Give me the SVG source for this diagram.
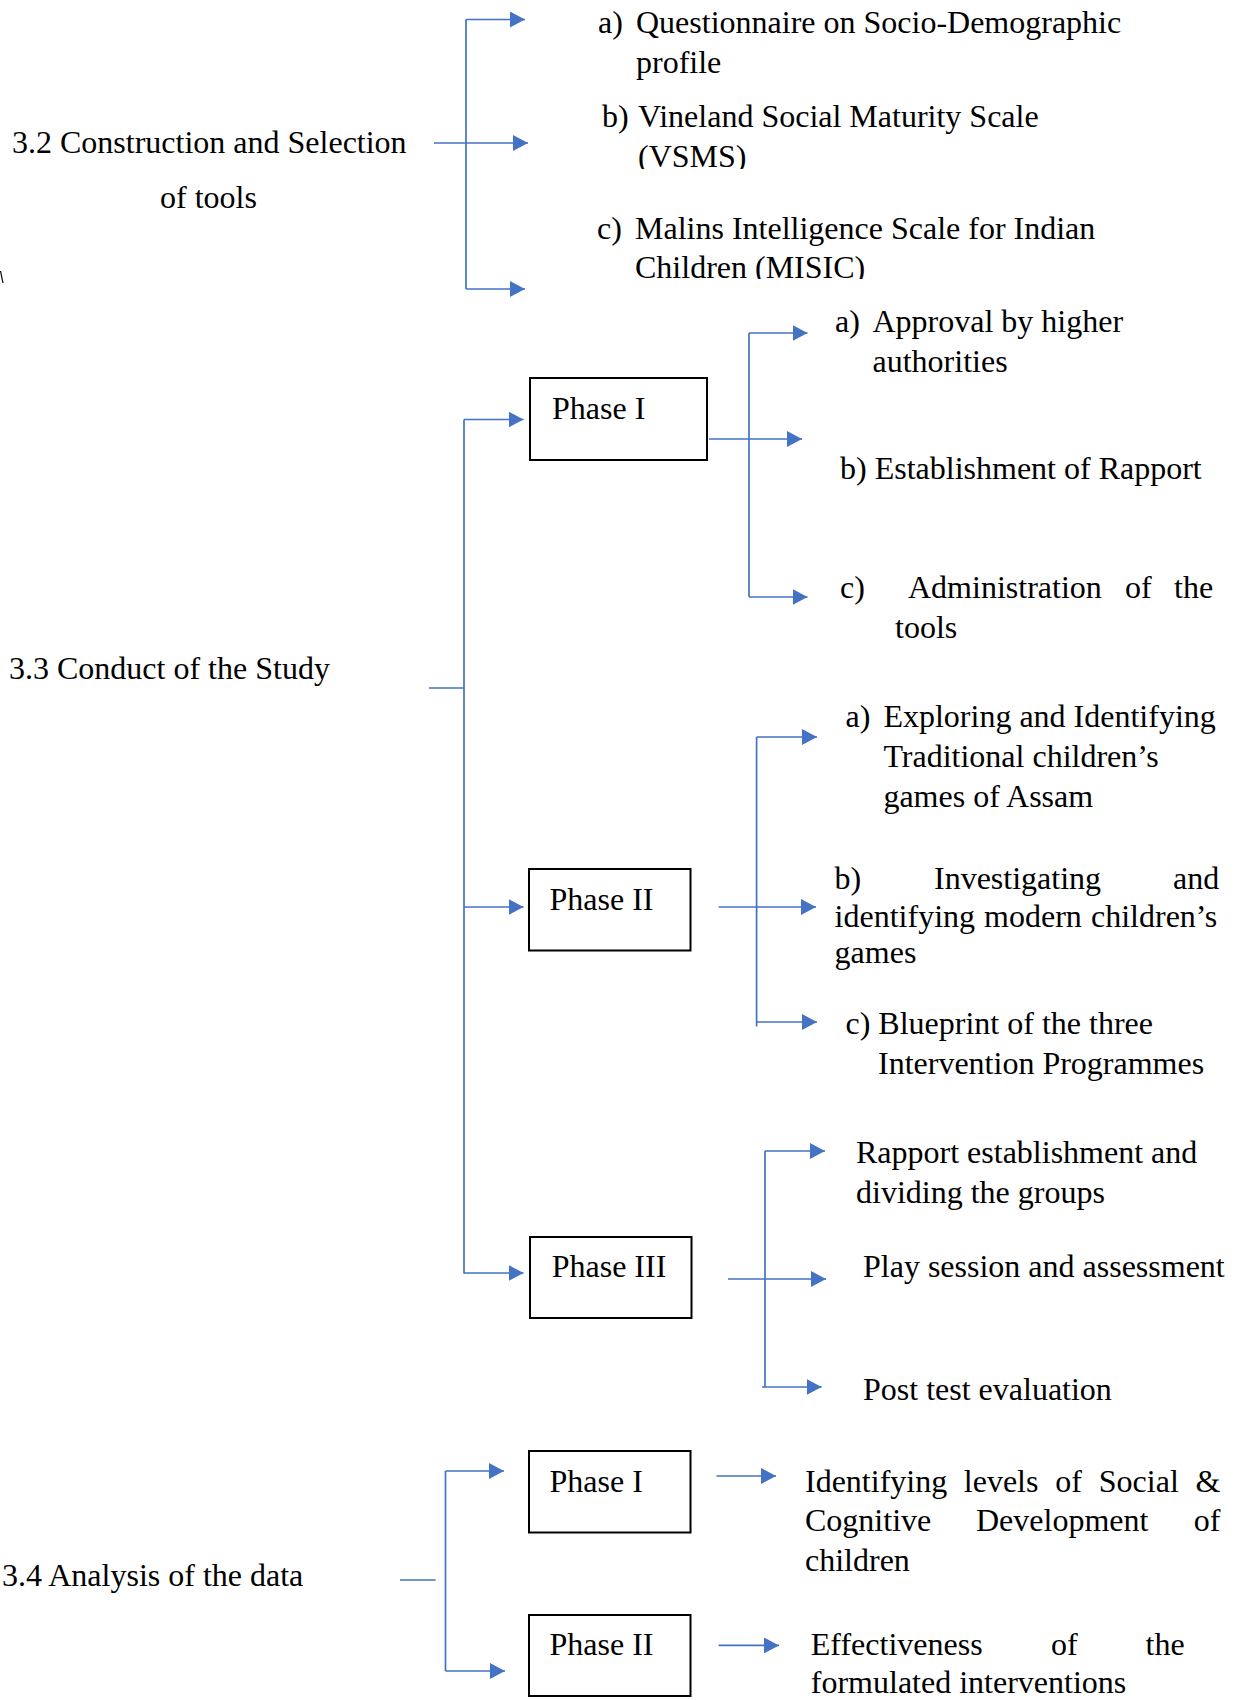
<svg xmlns="http://www.w3.org/2000/svg" width="1240" height="1700" viewBox="0 0 1240 1700">
<style>
text{font-family:"Liberation Serif","Times New Roman",serif;font-size:32px;fill:#000}
.c{stroke:#4472C4;stroke-width:1.7;fill:none}
.a{stroke:#4472C4;stroke-width:1.7;fill:none;marker-end:url(#ah)}
.box{fill:#fff;stroke:#000;stroke-width:2}
</style>
<defs>
<marker id="ah" viewBox="0 0 15 16" refX="15" refY="8" markerWidth="15" markerHeight="16" markerUnits="userSpaceOnUse" orient="auto">
<path d="M0,0 L15,8 L0,16 z" fill="#4472C4"/>
</marker>
<clipPath id="clipVSMS"><rect x="600" y="130" width="200" height="39"/></clipPath>
<clipPath id="clipMISIC"><rect x="600" y="240" width="300" height="39"/></clipPath>
</defs>

<g id="connectors">
<!-- 3.2 -->
<line class="c" x1="466" y1="19.5" x2="466" y2="289"/>
<line class="a" x1="466" y1="19.5" x2="525" y2="19.5"/>
<line class="a" x1="434" y1="143" x2="528" y2="143"/>
<line class="a" x1="466" y1="289" x2="525" y2="289"/>
<!-- 3.3 -->
<line class="c" x1="429" y1="688" x2="464" y2="688"/>
<line class="c" x1="464" y1="419.5" x2="464" y2="1273.5"/>
<line class="a" x1="464" y1="419.5" x2="523.5" y2="419.5"/>
<line class="a" x1="464" y1="907" x2="523.5" y2="907"/>
<line class="a" x1="464" y1="1273" x2="523.5" y2="1273"/>
<!-- Phase I (3.3) -->
<line class="c" x1="749" y1="333" x2="749" y2="597"/>
<line class="a" x1="709" y1="439" x2="802" y2="439"/>
<line class="a" x1="749" y1="333" x2="807.5" y2="333"/>
<line class="a" x1="749" y1="597" x2="807.5" y2="597"/>
<!-- Phase II (3.3) -->
<line class="c" x1="756.6" y1="737" x2="756.6" y2="1026.5"/>
<line class="a" x1="718.6" y1="907" x2="816" y2="907"/>
<line class="a" x1="756.6" y1="737" x2="817" y2="737"/>
<line class="a" x1="756.6" y1="1022" x2="817" y2="1022"/>
<!-- Phase III (3.3) -->
<line class="c" x1="765" y1="1151" x2="765" y2="1387"/>
<line class="a" x1="728" y1="1279" x2="826" y2="1279"/>
<line class="a" x1="765" y1="1151" x2="825" y2="1151"/>
<line class="a" x1="762" y1="1387" x2="821.6" y2="1387"/>
<!-- 3.4 -->
<line class="c" x1="400" y1="1580" x2="435.7" y2="1580"/>
<line class="c" x1="445.5" y1="1471" x2="445.5" y2="1671"/>
<line class="a" x1="445.5" y1="1471" x2="504" y2="1471"/>
<line class="a" x1="445.5" y1="1671" x2="505" y2="1671"/>
<line class="a" x1="716.5" y1="1476" x2="776" y2="1476"/>
<line class="a" x1="718.6" y1="1645.4" x2="779" y2="1645.4"/>
</g>

<line x1="0.5" y1="271" x2="3" y2="283" stroke="#000" stroke-width="1.2"/>

<g id="n32">
<text x="12" y="153">3.2 Construction and Selection</text>
<text x="160" y="208">of tools</text>
</g>
<g id="n32a">
<text x="598" y="33">a)</text>
<text x="636" y="33">Questionnaire on Socio-Demographic</text>
<text x="636" y="73">profile</text>
</g>
<g id="n32b">
<text x="602" y="127">b)</text>
<text x="638" y="127">Vineland Social Maturity Scale</text>
<text x="638" y="167" clip-path="url(#clipVSMS)">(VSMS)</text>
</g>
<g id="n32c">
<text x="597" y="239">c)</text>
<text x="635" y="239">Malins Intelligence Scale for Indian</text>
<text x="635" y="278" clip-path="url(#clipMISIC)">Children (MISIC)</text>
</g>

<g id="n33">
<text x="9" y="679">3.3 Conduct of the Study</text>
</g>
<g id="p33-1">
<rect class="box" x="530" y="378" width="177" height="82"/>
<text x="552" y="419">Phase I</text>
</g>
<g id="p33-1a">
<text x="835" y="332">a)</text>
<text x="872.5" y="332">Approval by higher</text>
<text x="872.5" y="372">authorities</text>
</g>
<g id="p33-1b">
<text x="840" y="479">b) Establishment of Rapport</text>
</g>
<g id="p33-1c">
<text x="840" y="598">c)</text>
<text y="598"><tspan x="908">Administration</tspan><tspan x="1125">of</tspan><tspan x="1174">the</tspan></text>
<text x="895" y="638">tools</text>
</g>

<g id="p33-2">
<rect class="box" x="529" y="869" width="161.5" height="81.5"/>
<text x="549.5" y="910">Phase II</text>
</g>
<g id="p33-2a">
<text x="845.5" y="727">a)</text>
<text x="883.4" y="727">Exploring and Identifying</text>
<text x="883.4" y="767">Traditional children’s</text>
<text x="883.4" y="807">games of Assam</text>
</g>
<g id="p33-2b">
<text y="889"><tspan x="834.6">b)</tspan><tspan x="934">Investigating</tspan><tspan x="1173">and</tspan></text>
<text y="927"><tspan x="834.6">identifying</tspan><tspan x="984.1">modern</tspan><tspan x="1091">children’s</tspan></text>
<text x="834.6" y="963">games</text>
</g>
<g id="p33-2c">
<text x="845.5" y="1034">c) Blueprint of the three</text>
<text x="878" y="1074">Intervention Programmes</text>
</g>

<g id="p33-3">
<rect class="box" x="530" y="1237" width="161.5" height="81"/>
<text x="551.7" y="1277">Phase III</text>
</g>
<g id="p33-3a">
<text x="856" y="1163">Rapport establishment and</text>
<text x="856" y="1203">dividing the groups</text>
</g>
<g id="p33-3b">
<text x="863" y="1277">Play session and assessment</text>
</g>
<g id="p33-3c">
<text x="863" y="1400">Post test evaluation</text>
</g>

<g id="n34">
<text x="2" y="1586">3.4 Analysis of the data</text>
</g>
<g id="p34-1">
<rect class="box" x="529" y="1451" width="161.5" height="81.5"/>
<text x="549.5" y="1492">Phase I</text>
</g>
<g id="p34-1r">
<text y="1492"><tspan x="805">Identifying</tspan><tspan x="963.8">levels</tspan><tspan x="1055.3">of</tspan><tspan x="1098.8">Social</tspan><tspan x="1195.6">&amp;</tspan></text>
<text y="1531"><tspan x="805">Cognitive</tspan><tspan x="976">Development</tspan><tspan x="1193.8">of</tspan></text>
<text x="805" y="1571">children</text>
</g>
<g id="p34-2">
<rect class="box" x="529" y="1615" width="161.5" height="81"/>
<text x="549.5" y="1655">Phase II</text>
</g>
<g id="p34-2r">
<text y="1655"><tspan x="810.8">Effectiveness</tspan><tspan x="1051">of</tspan><tspan x="1145.6">the</tspan></text>
<text x="810.8" y="1693">formulated interventions</text>
</g>
</svg>
